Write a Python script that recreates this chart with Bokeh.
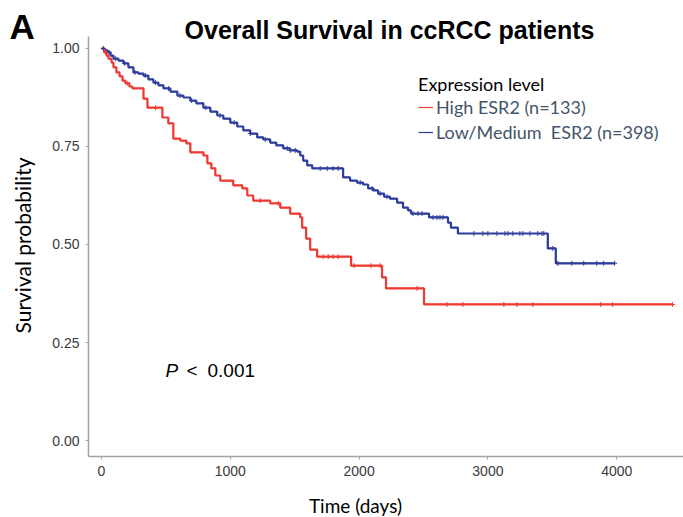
import numpy as np
from bokeh.plotting import figure
from bokeh.models import Range1d, Label, Legend, LegendItem, NumeralTickFormatter
from bokeh.embed import file_html
from bokeh.resources import INLINE

# ---------------- data ----------------
title_text = "Overall Survival in ccRCC patients"
panel_tag = "A"
x_label = "Time (days)"
y_label = "Survival probability"
legend_title = "Expression level"
high_label = "High ESR2 (n=133)"
low_label = "Low/Medium  ESR2 (n=398)"
p_italic = "P"
p_sign = "<"
p_value = "0.001"

x_ticks = [0, 1000, 2000, 3000, 4000]
y_ticks = [0.0, 0.25, 0.5, 0.75, 1.0]

high_time = [0, 23, 39, 54, 78, 93, 116, 140, 163, 186, 217, 240, 326, 357, 473, 519, 558, 612, 659, 690,
             791, 822, 853, 884, 922, 1023, 1093, 1132, 1178, 1310, 1388, 1465, 1543, 1558, 1589, 1620, 1674,
             1938, 2178, 2209, 2504]
high_surv = [1.0, 0.990, 0.982, 0.974, 0.964, 0.952, 0.939, 0.929, 0.918, 0.911, 0.903, 0.898, 0.872, 0.849,
             0.824, 0.809, 0.770, 0.765, 0.758, 0.735, 0.727, 0.707, 0.694, 0.676, 0.663, 0.651, 0.643, 0.625,
             0.612, 0.605, 0.594, 0.579, 0.569, 0.543, 0.515, 0.487, 0.469, 0.446, 0.416, 0.388, 0.347]
high_end = 4434
high_censor = [30, 200, 420, 1233, 1372, 1721, 1760, 1798, 1837, 1961, 2093, 2163, 2450, 2682, 2806, 3124,
               3225, 3349, 3876, 3969, 4434]

low_time = [0, 23, 47, 70, 93, 132, 171, 209, 248, 287, 326, 364, 403, 442, 481, 535, 589, 636, 690, 736,
            791, 845, 899, 946, 1000, 1054, 1101, 1155, 1209, 1256, 1310, 1357, 1411, 1465, 1519, 1543, 1566,
            1597, 1636, 1876, 1930, 1984, 2031, 2070, 2109, 2147, 2194, 2240, 2295, 2341, 2380, 2403, 2543,
            2690, 2713, 2767, 3465, 3527]
low_surv = [1.0, 0.995, 0.990, 0.982, 0.974, 0.969, 0.962, 0.952, 0.939, 0.936, 0.931, 0.921, 0.913, 0.906,
            0.898, 0.890, 0.880, 0.875, 0.867, 0.860, 0.849, 0.839, 0.829, 0.821, 0.811, 0.801, 0.791, 0.783,
            0.773, 0.768, 0.760, 0.753, 0.745, 0.740, 0.737, 0.727, 0.714, 0.702, 0.694, 0.671, 0.663, 0.658,
            0.653, 0.643, 0.638, 0.630, 0.622, 0.617, 0.607, 0.594, 0.587, 0.579, 0.569, 0.556, 0.543, 0.528,
            0.490, 0.452]
low_end = 3984
low_censor = [15, 60, 110, 180, 260, 340, 420, 520, 610, 700, 810, 920, 1030, 1155, 1271, 1442, 1465, 1504,
              1698, 1752, 1798, 1837, 2008, 2101, 2163, 2217, 2419, 2457, 2488, 2574, 2605, 2628, 2651, 2891,
              2961, 3000, 3070, 3132, 3155, 3194, 3248, 3271, 3326, 3388, 3419, 3434, 3504, 3543, 3651, 3744,
              3845, 3899, 3984]

# plotted value window (axis extent)
x_axis_start, x_axis_end = -101, 4519
y_axis_start, y_axis_end = -0.041, 1.031

RED = "#EE3A33"
BLUE = "#2E3D9C"
AXIS_GRAY = "#A3A3A3"

W, H = 683, 517


def censor_y(times, surv, ct):
    t = np.asarray(times)
    s = np.asarray(surv)
    idx = np.searchsorted(t, np.asarray(ct), side="right") - 1
    return s[idx]


# canvas-wide frame; axes sit at fixed locations inside it
p = figure(width=W, height=H, output_backend="svg", toolbar_location=None,
           x_range=Range1d(-784.2, 4518.6), y_range=Range1d(-0.1964, 1.1224),
           min_border=0, min_border_left=0, min_border_right=0, min_border_top=0, min_border_bottom=0)
p.outline_line_color = None
p.xgrid.visible = False
p.ygrid.visible = False
p.background_fill_color = "white"
p.border_fill_color = "white"

for ax in (p.xaxis[0], p.yaxis[0]):
    ax.axis_line_color = AXIS_GRAY
    ax.axis_line_width = 1.5
    ax.major_tick_line_color = AXIS_GRAY
    ax.major_tick_out = 3
    ax.major_tick_in = 0
    ax.minor_tick_line_color = None
    ax.major_label_text_font = "Liberation Sans"
    ax.major_label_text_font_size = "14px"
    ax.major_label_text_color = "#3A3A3A"
    ax.major_label_standoff = 6

p.xaxis.ticker = x_ticks
p.yaxis.ticker = y_ticks
p.xaxis.formatter = NumeralTickFormatter(format="0")
p.yaxis.formatter = NumeralTickFormatter(format="0.00")
p.xaxis.fixed_location = y_axis_start
p.yaxis.fixed_location = x_axis_start
p.xaxis.bounds = (x_axis_start, x_axis_end)
p.yaxis.bounds = (y_axis_start, y_axis_end)

# curves
hx = list(high_time) + [high_end]
hy = list(high_surv) + [high_surv[-1]]
lx = list(low_time) + [low_end]
ly = list(low_surv) + [low_surv[-1]]

# thin copies (hidden beneath the main curves) give the legend its thin sample lines
r_low_key = p.step(x=lx, y=ly, mode="after", line_color=BLUE, line_width=1.2)
r_high_key = p.step(x=hx, y=hy, mode="after", line_color=RED, line_width=1.2)

r_low = p.step(x=lx, y=ly, mode="after", line_color=BLUE, line_width=2.2)
r_high = p.step(x=hx, y=hy, mode="after", line_color=RED, line_width=2.2)

p.scatter(x=low_censor, y=censor_y(low_time, low_surv, low_censor), marker="cross", size=5,
          line_color=BLUE, line_width=1)
p.scatter(x=high_censor, y=censor_y(high_time, high_surv, high_censor), marker="cross", size=5,
          line_color=RED, line_width=1)

legend = Legend(items=[LegendItem(label=high_label, renderers=[r_high_key]),
                       LegendItem(label=low_label, renderers=[r_low_key])],
                title=legend_title, location=(418, 374))
legend.title_text_font = "Lato"
legend.title_text_font_size = "18px"
legend.title_text_font_style = "normal"
legend.title_text_color = "black"
legend.title_standoff = 1
legend.label_text_font = "Lato"
legend.label_text_font_size = "18px"
legend.label_text_color = "#44546A"
legend.glyph_width = 15
legend.glyph_height = 20
legend.label_height = 20
legend.label_standoff = 3
legend.spacing = 3
legend.padding = 0
legend.margin = 0
legend.border_line_color = None
legend.background_fill_alpha = 0
legend.inactive_fill_alpha = 0
p.add_layout(legend)


def add_text(x, y, text, font, size, style="normal", align="left", baseline="middle", angle=0.0,
             color="black"):
    p.add_layout(Label(x=x, y=y, x_units="screen", y_units="screen", text=text, angle=angle,
                       text_font=font, text_font_size=size, text_font_style=style,
                       text_align=align, text_baseline=baseline, text_color=color))


add_text(389, H - 29, title_text, "Liberation Sans", "25px", style="bold", align="center")
add_text(9, H - 26, panel_tag, "Liberation Sans", "35px", style="bold")
add_text(22, H - 245, y_label, "Lato", "21px", align="center", angle=np.pi / 2)
add_text(355, H - 505, x_label, "Lato", "19px", align="center")
add_text(165, H - 370, p_italic, "Liberation Sans", "19px", style="italic")
add_text(186, H - 370, p_sign, "Liberation Sans", "19px")
add_text(207, H - 370, p_value, "Liberation Sans", "19px")

open("out.html", "w").write(file_html(p, INLINE))
